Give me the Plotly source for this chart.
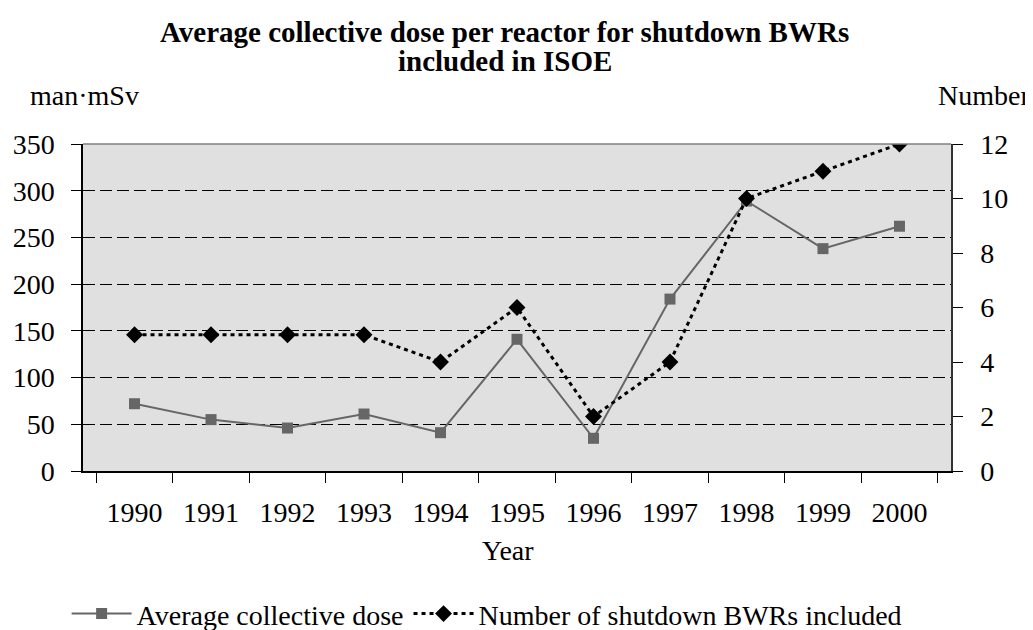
import plotly.graph_objects as go

years = ['1990', '1991', '1992', '1993', '1994', '1995', '1996', '1997', '1998', '1999', '2000']
avg_dose = [72, 55, 46, 61, 41, 141, 35, 184, 289, 238, 262]
n_reactors = [5, 5, 5, 5, 4, 6, 2, 4, 10, 11, 12]

FONT = 'Liberation Serif'
SIZE = 28
DOSE_COLOR = '#666666'
COUNT_COLOR = '#000000'

fig = go.Figure()

fig.add_trace(go.Scatter(
    x=years, y=avg_dose,
    name='Average collective dose',
    mode='lines+markers',
    line=dict(color=DOSE_COLOR, width=2),
    marker=dict(symbol='square', size=11, color=DOSE_COLOR),
))

fig.add_trace(go.Scatter(
    x=years, y=n_reactors,
    name='Number of shutdown BWRs included',
    mode='lines+markers',
    yaxis='y2',
    line=dict(color=COUNT_COLOR, width=3, dash='4px,4px'),
    marker=dict(symbol='diamond', size=13, color=COUNT_COLOR),
))

# grey frame line along the top of the plot area
fig.add_shape(type='line', xref='paper', yref='paper', x0=0, x1=1, y0=1, y1=1,
              line=dict(color='#808080', width=1.5))

# title as two annotations (tighter line spacing than plotly's title)
fig.add_annotation(text='<b>Average collective dose per reactor for shutdown BWRs</b>',
                   xref='paper', yref='paper', x=0.486, y=1.343,
                   xanchor='center', yanchor='middle', showarrow=False,
                   font=dict(family=FONT, size=29, color='black'))
fig.add_annotation(text='<b>included in ISOE</b>',
                   xref='paper', yref='paper', x=0.486, y=1.255,
                   xanchor='center', yanchor='middle', showarrow=False,
                   font=dict(family=FONT, size=29, color='black'))

fig.add_annotation(text='man·mSv', xref='paper', yref='paper', x=-0.063, y=1.147,
                   xanchor='left', yanchor='middle', showarrow=False,
                   font=dict(family=FONT, size=SIZE, color='black'))
fig.add_annotation(text='Number', xref='paper', yref='paper', x=1.0935, y=1.147,
                   xanchor='right', yanchor='middle', showarrow=False,
                   font=dict(family=FONT, size=SIZE, color='black'))
fig.add_annotation(text='Year', xref='paper', yref='paper', x=0.49, y=-0.242,
                   xanchor='center', yanchor='middle', showarrow=False,
                   font=dict(family=FONT, size=SIZE, color='black'))

fig.update_layout(
    width=1033, height=630,
    margin=dict(l=75, r=90, t=136, b=167, autoexpand=False),
    paper_bgcolor='white',
    plot_bgcolor='#e0e0e0',
    font=dict(family=FONT, size=SIZE, color='black'),
    showlegend=True,
    legend=dict(orientation='h', x=0.465, xanchor='center', y=-0.437, yanchor='middle',
                font=dict(family=FONT, size=SIZE), itemwidth=60, bgcolor='rgba(0,0,0,0)'),
    xaxis=dict(
        type='category',
        tickson='boundaries',
        ticks='outside', ticklen=10, tickcolor='black',
        showline=True, linecolor='black', linewidth=1.5,
        showgrid=False, automargin=False,
        ticklabelstandoff=16,
        tickfont=dict(size=SIZE),
    ),
    yaxis=dict(
        range=[0, 350], dtick=50,
        ticks='outside', ticklen=10, tickcolor='black',
        showline=True, linecolor='black', linewidth=1.5,
        showgrid=True, gridcolor='black', gridwidth=1, griddash='12px,5px',
        zeroline=False, automargin=False,
        ticklabelstandoff=11,
        tickfont=dict(size=SIZE),
    ),
    yaxis2=dict(
        range=[0, 12], dtick=2,
        overlaying='y', side='right',
        ticks='outside', ticklen=10, tickcolor='black',
        showline=True, linecolor='#333333', linewidth=1.5,
        showgrid=False, zeroline=False, automargin=False,
        ticklabelstandoff=12,
        tickfont=dict(size=SIZE),
    ),
)

fig.write_html('out.html')
